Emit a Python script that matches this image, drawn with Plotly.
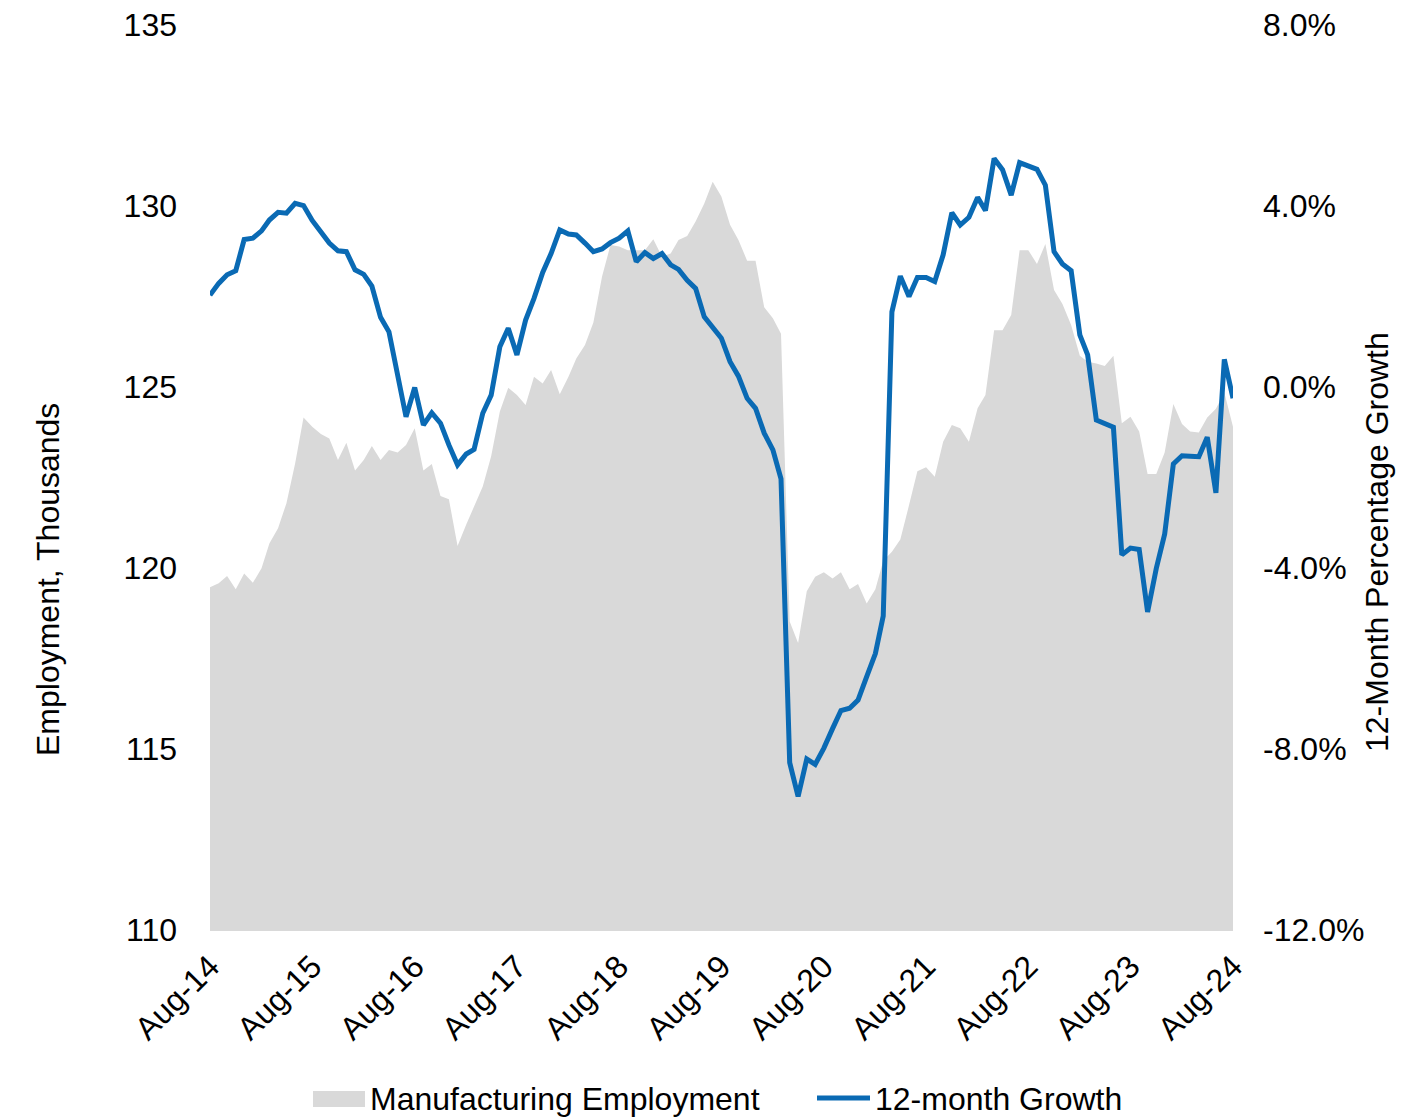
import pandas as pd
import plotly.graph_objects as go

# ---- data ----
start_month = "2014-08-01"
n_months = 121
months = pd.date_range(start_month, periods=n_months, freq="MS")

employment = [
    119.47, 119.58, 119.78, 119.41, 119.85, 119.59, 119.99, 120.68, 121.10, 121.79,
    122.89, 124.16, 123.90, 123.70, 123.58, 122.98, 123.46, 122.69, 122.98, 123.37,
    122.98, 123.26, 123.19, 123.40, 123.86, 122.69, 122.87, 121.99, 121.90, 120.61,
    121.20, 121.70, 122.25, 123.09, 124.32, 124.98, 124.78, 124.50, 125.28, 125.10,
    125.47, 124.80, 125.28, 125.79, 126.16, 126.78, 128.05, 128.92, 128.88, 128.78,
    128.78, 128.78, 129.08, 128.60, 128.69, 129.06, 129.17, 129.57, 130.07, 130.67,
    130.26, 129.48, 129.06, 128.49, 128.49, 127.20, 126.90, 126.47, 118.52, 117.93,
    119.36, 119.76, 119.88, 119.71, 119.88, 119.41, 119.56, 119.02, 119.41, 120.20,
    120.45, 120.79, 121.73, 122.67, 122.78, 122.52, 123.49, 123.95, 123.86, 123.49,
    124.41, 124.78, 126.57, 126.57, 126.99, 128.78, 128.78, 128.40, 128.95, 127.68,
    127.29, 126.71, 125.86, 125.70, 125.65, 125.58, 125.86, 124.00, 124.18, 123.77,
    122.60, 122.60, 123.19, 124.53, 123.98, 123.77, 123.74, 124.16, 124.40, 124.85,
    123.90,
]

growth_pct = [
    2.03, 2.29, 2.48, 2.57, 3.26, 3.29, 3.45, 3.69, 3.86, 3.84,
    4.06, 4.01, 3.68, 3.43, 3.18, 3.01, 2.99, 2.59, 2.49, 2.23,
    1.54, 1.22, 0.23, -0.66, -0.01, -0.84, -0.57, -0.80, -1.28, -1.72,
    -1.48, -1.38, -0.58, -0.18, 0.89, 1.30, 0.71, 1.48, 1.96, 2.53,
    2.95, 3.47, 3.38, 3.36, 3.18, 2.99, 3.05, 3.19, 3.29, 3.45,
    2.77, 2.97, 2.84, 2.95, 2.70, 2.60, 2.36, 2.18, 1.55, 1.32,
    1.08, 0.56, 0.24, -0.25, -0.47, -1.02, -1.39, -2.03, -8.30, -9.05,
    -8.22, -8.34, -7.98, -7.55, -7.15, -7.10, -6.92, -6.40, -5.89, -5.06,
    1.66, 2.45, 2.00, 2.42, 2.42, 2.33, 2.92, 3.85, 3.58, 3.75,
    4.19, 3.90, 5.05, 4.80, 4.24, 4.96, 4.88, 4.81, 4.46, 2.99,
    2.72, 2.57, 1.15, 0.71, -0.73, -0.82, -0.89, -3.71, -3.56, -3.59,
    -4.97, -4.01, -3.25, -1.70, -1.52, -1.53, -1.54, -1.11, -2.34, 0.61,
    -0.25,
]

x_tick_dates = pd.date_range(start_month, periods=11, freq="12MS")
left_ticks = [110, 115, 120, 125, 130, 135]
right_ticks = [-12, -8, -4, 0, 4, 8]
right_tick_text = [f"{v:.1f}%" for v in right_ticks]

series_names = ["Manufacturing Employment", "12-month Growth"]
left_title = "Employment, Thousands"
right_title = "12-Month Percentage Growth"

GREY = "#d9d9d9"
BLUE = "#0a6ab4"
FONT = "Liberation Sans, Arial, sans-serif"
FS = 32

# page has an 8px body margin; plot area target: x 210..1233, y 25..930 (window px)
OFF = 8
W, H = 1421 - OFF, 1119 - OFF
PL, PR, PT, PB = 210, 1233, 25, 930
PW, PH = PR - PL, PB - PT


def px(xw):
    return (xw - PL) / PW


def py(yw):
    return (PB - yw) / PH


fig = go.Figure()
fig.add_trace(go.Scatter(
    x=months, y=employment, mode="lines", fill="tozeroy",
    fillcolor=GREY, line=dict(width=0, color=GREY),
    name=series_names[0], showlegend=False, hoverinfo="skip",
))
fig.add_trace(go.Scatter(
    x=months, y=growth_pct, mode="lines", yaxis="y2",
    line=dict(width=5, color=BLUE), name=series_names[1], showlegend=False,
))

fig.update_layout(
    width=W, height=H,
    margin=dict(l=PL - OFF, r=W + OFF - PR, t=PT - OFF, b=H + OFF - PB, autoexpand=False),
    paper_bgcolor="white", plot_bgcolor="white",
    font=dict(family=FONT, size=FS, color="black"),
    xaxis=dict(
        type="date", range=[months[0], months[-1]],
        tickvals=list(x_tick_dates), tickformat="%b-%y", tickangle=-45,
        showgrid=False, zeroline=False, ticks="",
        showline=True, linecolor=GREY, linewidth=1,
        ticklabelstandoff=4, ticklabeloverflow="allow",
        tickfont=dict(family=FONT, size=FS),
    ),
    yaxis=dict(
        range=[110, 135], tickvals=left_ticks,
        showgrid=False, zeroline=False, ticks="", showline=False,
        ticklabelstandoff=32, ticklabeloverflow="allow",
        tickfont=dict(family=FONT, size=FS),
    ),
    yaxis2=dict(
        range=[-12, 8], tickvals=right_ticks, ticktext=right_tick_text,
        overlaying="y", side="right",
        showgrid=False, zeroline=False, ticks="", showline=False,
        ticklabelstandoff=29, ticklabeloverflow="allow",
        tickfont=dict(family=FONT, size=FS),
    ),
)

# axis titles
fig.add_annotation(text=left_title, xref="paper", yref="paper",
                   x=px(48), y=py(580), textangle=-90,
                   showarrow=False, xanchor="center", yanchor="middle",
                   font=dict(family=FONT, size=FS))
fig.add_annotation(text=right_title, xref="paper", yref="paper",
                   x=px(1377), y=py(542), textangle=-90,
                   showarrow=False, xanchor="center", yanchor="middle",
                   font=dict(family=FONT, size=FS))

# legend (below plot)
ly = py(1099)
fig.add_shape(type="rect", xref="paper", yref="paper",
              x0=px(313), x1=px(365), y0=py(1107), y1=py(1091),
              fillcolor=GREY, line=dict(width=0))
fig.add_annotation(text=series_names[0], xref="paper", yref="paper",
                   x=px(368), y=ly, showarrow=False,
                   xanchor="left", yanchor="middle", font=dict(family=FONT, size=FS))
fig.add_shape(type="line", xref="paper", yref="paper",
              x0=px(817), x1=px(870), y0=py(1098), y1=py(1098),
              line=dict(color=BLUE, width=5))
fig.add_annotation(text=series_names[1], xref="paper", yref="paper",
                   x=px(873), y=ly, showarrow=False,
                   xanchor="left", yanchor="middle", font=dict(family=FONT, size=FS))

fig.write_html("out.html")
